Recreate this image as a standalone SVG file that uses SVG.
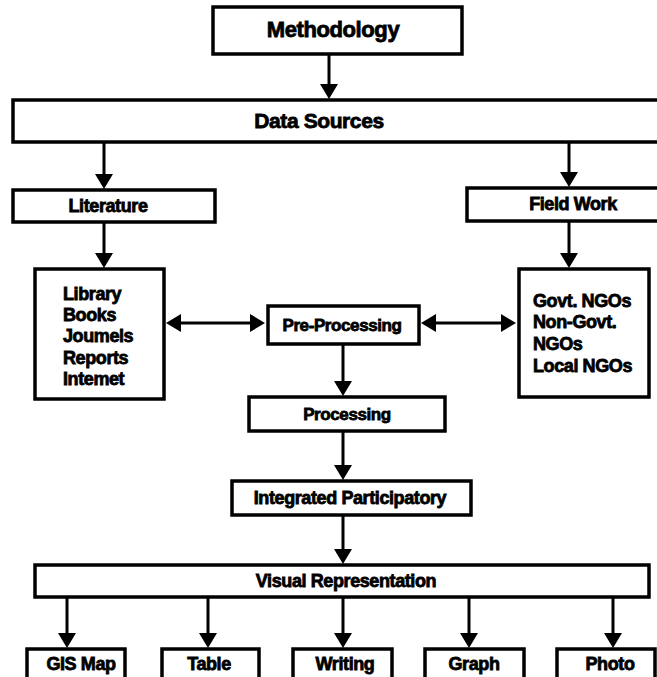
<svg xmlns="http://www.w3.org/2000/svg" width="657" height="677" viewBox="0 0 657 677">
<style>
.box{fill:#fff;stroke:#000;stroke-width:3.5}
.c{stroke:#000;stroke-width:3;fill:none;marker-end:url(#ah)}
.d{stroke:#000;stroke-width:3;fill:none;marker-start:url(#ah);marker-end:url(#ah)}
text{font-family:"Liberation Sans",Arial,sans-serif;font-weight:bold;fill:#000;stroke:#000;stroke-width:0.8;font-size:18px;letter-spacing:-0.4px}
.m{text-anchor:middle}
</style>
<defs>
<marker id="ah" markerUnits="userSpaceOnUse" markerWidth="16" markerHeight="18" viewBox="0 0 15 18" refX="11" refY="9" orient="auto-start-reverse">
<path d="M0,0 L15,9 L0,18 z" fill="#000"/>
</marker>
</defs>
<rect width="657" height="677" fill="#fff"/>
<g id="connectors">
<line class="c" x1="329" y1="54" x2="329" y2="95"/>
<line class="c" x1="104" y1="142" x2="104" y2="185"/>
<line class="c" x1="569" y1="142" x2="569" y2="183"/>
<line class="c" x1="104" y1="222" x2="104" y2="264"/>
<line class="c" x1="569" y1="221" x2="569" y2="264"/>
<line class="d" x1="170" y1="323" x2="261" y2="323"/>
<line class="d" x1="425" y1="323" x2="512" y2="323"/>
<line class="c" x1="343" y1="344" x2="343" y2="392"/>
<line class="c" x1="343" y1="431" x2="343" y2="476"/>
<line class="c" x1="343" y1="515" x2="343" y2="560"/>
<line class="c" x1="67" y1="597" x2="67" y2="644"/>
<line class="c" x1="208" y1="597" x2="208" y2="644"/>
<line class="c" x1="343" y1="597" x2="343" y2="644"/>
<line class="c" x1="469" y1="597" x2="469" y2="644"/>
<line class="c" x1="613" y1="597" x2="613" y2="644"/>
</g>
<g id="methodology"><rect class="box" x="213" y="7" width="249" height="47"/><text class="m" x="333" y="37" style="font-size:22px">Methodology</text></g>
<g id="data-sources"><rect class="box" x="13" y="100" width="650" height="42"/><text class="m" x="319" y="128" style="font-size:21px">Data Sources</text></g>
<g id="literature"><rect class="box" x="13" y="190" width="202" height="32"/><text class="m" x="108" y="212">Literature</text></g>
<g id="field-work"><rect class="box" x="467" y="188" width="200" height="33"/><text class="m" x="573" y="210">Field Work</text></g>
<g id="library"><rect class="box" x="35" y="269" width="129" height="130"/>
<text x="63" y="300">Library</text><text x="63" y="321">Books</text><text x="63" y="342">Joumels</text><text x="63" y="364">Reports</text><text x="63" y="385">Intemet</text></g>
<g id="ngos"><rect class="box" x="519" y="269" width="130" height="128"/>
<text x="533" y="307">Govt. NGOs</text><text x="533" y="328">Non-Govt.</text><text x="533" y="350">NGOs</text><text x="533" y="372">Local NGOs</text></g>
<g id="pre-processing"><rect class="box" x="268" y="306" width="151" height="38"/><text class="m" x="342" y="331" style="font-size:17px">Pre-Processing</text></g>
<g id="processing"><rect class="box" x="249" y="397" width="196" height="34"/><text class="m" x="347" y="420" style="font-size:17px">Processing</text></g>
<g id="integrated"><rect class="box" x="232" y="481" width="239" height="34"/><text class="m" x="350" y="504">Integrated Participatory</text></g>
<g id="visual"><rect class="box" x="35" y="565" width="614" height="32"/><text class="m" x="346" y="587">Visual Representation</text></g>
<g id="gis-map"><rect class="box" x="27" y="649" width="98" height="36"/><text class="m" x="81" y="670">GIS Map</text></g>
<g id="table"><rect class="box" x="162" y="649" width="97" height="36"/><text class="m" x="209" y="670">Table</text></g>
<g id="writing"><rect class="box" x="293" y="649" width="99" height="36"/><text class="m" x="345" y="670">Writing</text></g>
<g id="graph"><rect class="box" x="425" y="649" width="99" height="36"/><text class="m" x="474" y="670">Graph</text></g>
<g id="photo"><rect class="box" x="557" y="649" width="98" height="36"/><text class="m" x="610" y="670">Photo</text></g>
</svg>
